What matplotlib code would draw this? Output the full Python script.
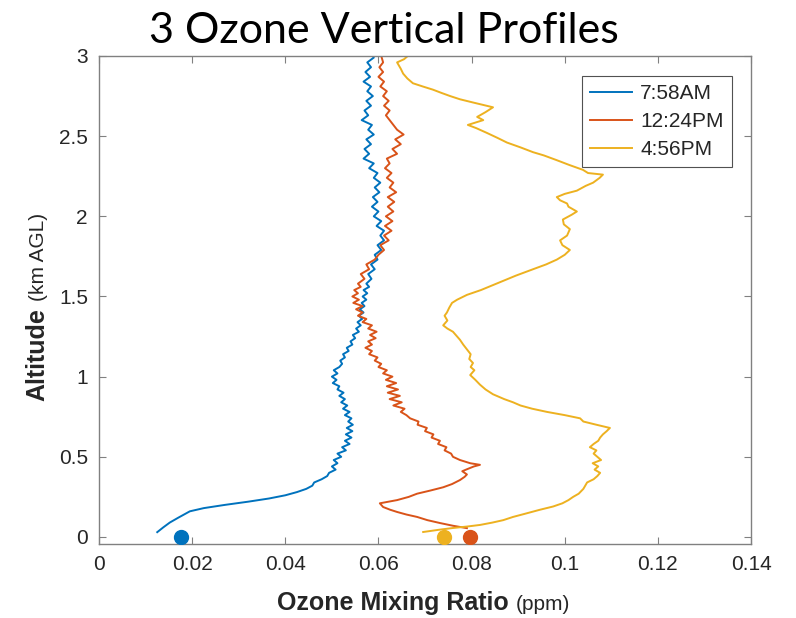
import matplotlib
matplotlib.use("Agg")
import matplotlib.pyplot as plt

# 7:58AM profile (ppm, km AGL)
am_alt = [0.03, 0.06, 0.09, 0.12, 0.16, 0.18, 0.20, 0.22, 0.24, 0.26, 0.28, 0.30,
          0.32, 0.34, 0.36, 0.38, 0.40, 0.42, 0.44, 0.46, 0.48, 0.50, 0.52, 0.54,
          0.56, 0.58, 0.60, 0.62, 0.64, 0.66, 0.68, 0.70, 0.72, 0.74, 0.76, 0.78,
          0.80, 0.82, 0.84, 0.86, 0.88, 0.90, 0.92, 0.94, 0.96, 0.98, 1.00, 1.02,
          1.04, 1.06, 1.08, 1.10, 1.12, 1.14, 1.16, 1.18, 1.20, 1.22, 1.24, 1.26,
          1.28, 1.30, 1.32, 1.34, 1.36, 1.38, 1.40, 1.42, 1.44, 1.46, 1.48, 1.50,
          1.52, 1.54, 1.56, 1.58, 1.61, 1.64, 1.67, 1.70, 1.73, 1.76, 1.79, 1.82,
          1.85, 1.88, 1.91, 1.94, 1.97, 2.00, 2.03, 2.06, 2.09, 2.12, 2.15, 2.18,
          2.21, 2.24, 2.27, 2.30, 2.33, 2.36, 2.39, 2.42, 2.45, 2.48, 2.51, 2.54,
          2.57, 2.60, 2.63, 2.66, 2.69, 2.72, 2.75, 2.78, 2.81, 2.84, 2.87, 2.90,
          2.93, 2.96, 2.99, 3.00]
am_o3 = [0.0125, 0.0138, 0.0152, 0.0170, 0.0195, 0.0225, 0.0270, 0.0320, 0.0365, 0.0400, 0.0425, 0.0445,
         0.0458, 0.0462, 0.0478, 0.0490, 0.0494, 0.0508, 0.0500, 0.0512, 0.0504, 0.0520, 0.0512, 0.0530,
         0.0522, 0.0538, 0.0528, 0.0542, 0.0530, 0.0544, 0.0532, 0.0545, 0.0535, 0.0542, 0.0528, 0.0538,
         0.0524, 0.0533, 0.0520, 0.0528, 0.0516, 0.0525, 0.0512, 0.0516, 0.0502, 0.0510, 0.0500, 0.0512,
         0.0504, 0.0516, 0.0522, 0.0518, 0.0528, 0.0524, 0.0536, 0.0532, 0.0544, 0.0540, 0.0550, 0.0545,
         0.0558, 0.0552, 0.0562, 0.0555, 0.0565, 0.0558, 0.0568, 0.0560, 0.0570, 0.0564, 0.0574, 0.0566,
         0.0576, 0.0568, 0.0580, 0.0574, 0.0585, 0.0578, 0.0592, 0.0584, 0.0598, 0.0592, 0.0606, 0.0598,
         0.0612, 0.0604, 0.0612, 0.0596, 0.0606, 0.0590, 0.0600, 0.0586, 0.0598, 0.0588, 0.0602, 0.0592,
         0.0604, 0.0590, 0.0598, 0.0580, 0.0590, 0.0568, 0.0580, 0.0570, 0.0584, 0.0574, 0.0590, 0.0578,
         0.0586, 0.0564, 0.0578, 0.0570, 0.0584, 0.0574, 0.0588, 0.0576, 0.0584, 0.0568, 0.0582, 0.0572,
         0.0584, 0.0576, 0.0590, 0.0588]

# 12:24PM profile
noon_alt = [0.055, 0.07, 0.087, 0.105, 0.125, 0.14, 0.156, 0.17, 0.187, 0.21, 0.23, 0.25,
            0.27, 0.29, 0.31, 0.33, 0.355, 0.375, 0.39, 0.41, 0.42, 0.44, 0.45, 0.46,
            0.48, 0.50, 0.52, 0.54, 0.56, 0.58, 0.60, 0.62, 0.64, 0.66, 0.68, 0.70,
            0.72, 0.74, 0.76, 0.78, 0.80, 0.82, 0.84, 0.86, 0.88, 0.90, 0.92, 0.94,
            0.96, 0.98, 1.00, 1.02, 1.04, 1.06, 1.08, 1.10, 1.12, 1.14, 1.16, 1.18,
            1.20, 1.22, 1.24, 1.26, 1.28, 1.30, 1.32, 1.34, 1.36, 1.38, 1.40, 1.42,
            1.44, 1.46, 1.48, 1.50, 1.52, 1.54, 1.56, 1.58, 1.61, 1.64, 1.67, 1.70,
            1.73, 1.76, 1.79, 1.82, 1.85, 1.88, 1.91, 1.94, 1.97, 2.00, 2.03, 2.06,
            2.09, 2.12, 2.15, 2.18, 2.21, 2.24, 2.27, 2.30, 2.33, 2.36, 2.39, 2.42,
            2.45, 2.48, 2.51, 2.54, 2.57, 2.60, 2.63, 2.66, 2.69, 2.72, 2.75, 2.78,
            2.81, 2.84, 2.87, 2.90, 2.93, 2.96, 3.00]
noon_o3 = [0.0790, 0.0760, 0.0732, 0.0705, 0.0683, 0.0660, 0.0640, 0.0625, 0.0610, 0.0603, 0.0640, 0.0665,
           0.0683, 0.0712, 0.0739, 0.0758, 0.0775, 0.0785, 0.0790, 0.0780, 0.0788, 0.0805, 0.0818, 0.0797,
           0.0775, 0.0760, 0.0756, 0.0742, 0.0746, 0.0728, 0.0732, 0.0714, 0.0718, 0.0700, 0.0704, 0.0684,
           0.0686, 0.0668, 0.0660, 0.0648, 0.0656, 0.0632, 0.0650, 0.0624, 0.0646, 0.0620, 0.0642, 0.0618,
           0.0638, 0.0616, 0.0630, 0.0610, 0.0618, 0.0600, 0.0606, 0.0592, 0.0598, 0.0580, 0.0586, 0.0572,
           0.0586, 0.0578, 0.0594, 0.0582, 0.0596, 0.0578, 0.0586, 0.0566, 0.0574, 0.0556, 0.0566, 0.0552,
           0.0566, 0.0546, 0.0558, 0.0544, 0.0556, 0.0548, 0.0562, 0.0556, 0.0570, 0.0562, 0.0580, 0.0574,
           0.0592, 0.0600, 0.0612, 0.0604, 0.0622, 0.0612, 0.0628, 0.0614, 0.0630, 0.0616, 0.0632, 0.0620,
           0.0634, 0.0620, 0.0638, 0.0624, 0.0632, 0.0618, 0.0628, 0.0614, 0.0624, 0.0618, 0.0640, 0.0630,
           0.0648, 0.0636, 0.0654, 0.0640, 0.0632, 0.0624, 0.0616, 0.0624, 0.0612, 0.0622, 0.0610, 0.0618,
           0.0604, 0.0612, 0.0600, 0.0610, 0.0602, 0.0610, 0.0606]

# 4:56PM profile
pm_alt = [0.031, 0.045, 0.056, 0.065, 0.075, 0.09, 0.105, 0.125, 0.145, 0.17, 0.19, 0.21,
          0.23, 0.25, 0.27, 0.30, 0.32, 0.34, 0.36, 0.38, 0.40, 0.42, 0.44, 0.46,
          0.48, 0.50, 0.52, 0.54, 0.56, 0.58, 0.60, 0.62, 0.64, 0.66, 0.68, 0.70,
          0.72, 0.74, 0.76, 0.78, 0.80, 0.82, 0.84, 0.86, 0.89, 0.92, 0.95, 0.98,
          1.01, 1.04, 1.06, 1.085, 1.11, 1.14, 1.17, 1.20, 1.23, 1.25, 1.28, 1.30,
          1.32, 1.35, 1.38, 1.40, 1.43, 1.46, 1.48, 1.51, 1.54, 1.57, 1.60, 1.63,
          1.67, 1.70, 1.73, 1.76, 1.79, 1.82, 1.85, 1.88, 1.92, 1.95, 1.98, 2.01,
          2.03, 2.06, 2.08, 2.10, 2.12, 2.14, 2.16, 2.19, 2.21, 2.24, 2.26, 2.27,
          2.29, 2.32, 2.35, 2.38, 2.40, 2.43, 2.46, 2.49, 2.52, 2.55, 2.57, 2.60,
          2.62, 2.65, 2.68, 2.71, 2.73, 2.75, 2.77, 2.79, 2.81, 2.83, 2.86, 2.89,
          2.92, 2.96, 2.98, 3.00]
pm_o3 = [0.0696, 0.0730, 0.0760, 0.0790, 0.0818, 0.0845, 0.0868, 0.0889, 0.0915, 0.0947, 0.0975, 0.0995,
         0.1008, 0.1018, 0.1030, 0.1040, 0.1044, 0.1048, 0.1062, 0.1070, 0.1076, 0.1064, 0.1072, 0.1060,
         0.1078, 0.1070, 0.1062, 0.1068, 0.1054, 0.1062, 0.1072, 0.1076, 0.1082, 0.1090, 0.1097, 0.1068,
         0.1040, 0.1033, 0.1000, 0.0962, 0.0930, 0.0905, 0.0889, 0.0870, 0.0846, 0.0830, 0.0818, 0.0808,
         0.0797, 0.0806, 0.0798, 0.0803, 0.0795, 0.0798, 0.0790, 0.0782, 0.0775, 0.0769, 0.0760, 0.0748,
         0.0739, 0.0748, 0.0742, 0.0747, 0.0752, 0.0758, 0.0769, 0.0790, 0.0820, 0.0845, 0.0870, 0.0895,
         0.0932, 0.0960, 0.0983, 0.1000, 0.1011, 0.0995, 0.0990, 0.1005, 0.1011, 0.0998, 0.0996, 0.1015,
         0.1026, 0.1008, 0.1005, 0.0990, 0.0983, 0.1000, 0.1026, 0.1045, 0.1061, 0.1075, 0.1082, 0.1050,
         0.1039, 0.1010, 0.0983, 0.0955, 0.0932, 0.0905, 0.0876, 0.0855, 0.0833, 0.0810, 0.0792, 0.0825,
         0.0812, 0.0830, 0.0846, 0.0803, 0.0775, 0.0754, 0.0735, 0.0717, 0.0695, 0.0674, 0.0662, 0.0653,
         0.0648, 0.0640, 0.0655, 0.0663]

# surface measurements
surf_o3 = [0.0176, 0.0797, 0.0741]
surf_alt = [0.0, 0.0, 0.0]

labels = ["7:58AM", "12:24PM", "4:56PM"]
colors = ["#0072BD", "#D95319", "#EDB120"]

x_ticks = [0, 0.02, 0.04, 0.06, 0.08, 0.1, 0.12, 0.14]
x_ticklabels = ["0", "0.02", "0.04", "0.06", "0.08", "0.1", "0.12", "0.14"]
y_ticks = [0, 0.5, 1, 1.5, 2, 2.5, 3]
y_ticklabels = ["0", "0.5", "1", "1.5", "2", "2.5", "3"]

plt.rcParams["font.family"] = ["Liberation Sans", "DejaVu Sans"]

W, H = 796, 618
fig = plt.figure(figsize=(W / 100, H / 100), dpi=100)
ax = fig.add_axes([0.1244, 0.1197, 0.8191, 0.7897])

profiles = [(am_o3, am_alt), (noon_o3, noon_alt), (pm_o3, pm_alt)]
for (xs, ys), lab, c in zip(profiles, labels, colors):
    ax.plot(xs, ys, color=c, linewidth=1.4, label=lab)
for xs, ys, c in zip(surf_o3, surf_alt, colors):
    ax.plot(xs, ys, "o", color=c, markersize=10, zorder=3)

ax.set_xlim(0, 0.14)
ax.set_ylim(-0.044, 3)
ax.set_xticks(x_ticks)
ax.set_xticklabels(x_ticklabels)
ax.set_yticks(y_ticks)
ax.set_yticklabels(y_ticklabels)
ax.tick_params(direction="in", length=5, width=0.8, color="#808080",
               labelsize=15, labelcolor="#262626", top=True, right=True, pad=8)
for sp in ax.spines.values():
    sp.set_color("#808080")
    sp.set_linewidth(1.0)

leg = ax.legend(loc="upper right", bbox_to_anchor=(0.971, 0.959), fontsize=15,
                frameon=True, fancybox=False, handlelength=2.0, borderpad=0.4,
                labelspacing=0.42, handletextpad=0.4, borderaxespad=0)
leg.get_frame().set_edgecolor("#262626")
leg.get_frame().set_linewidth(0.8)
for t in leg.get_texts():
    t.set_color("#262626")

# axis labels: bold name followed by a lighter unit
renderer = fig.canvas.get_renderer()
xl = fig.text(277 / W, 1 - 610 / H, "Ozone Mixing Ratio", fontsize=18, fontweight="bold",
              color="#262626", ha="left", va="baseline")
xw = xl.get_window_extent(renderer).width
fig.text((277 + xw + 7) / W, 1 - 610 / H, "(ppm)", fontsize=15, color="#262626",
         ha="left", va="baseline")

yl = fig.text(44 / W, 1 - 401 / H, "Altitude", fontsize=18, fontweight="bold",
              color="#262626", rotation=90, rotation_mode="anchor",
              ha="left", va="baseline")
yh = yl.get_window_extent(renderer).height
fig.text(44 / W, (H - 401 + yh + 7) / H, "(km AGL)", fontsize=15, color="#262626",
         rotation=90, rotation_mode="anchor", ha="left", va="baseline")

fig.text(384 / W, 1 - 43 / H, "3 Ozone Vertical Profiles", fontsize=31,
         family=["Lato", "DejaVu Sans"], color="black", ha="center", va="baseline")

fig.savefig("out.png", dpi=100)
